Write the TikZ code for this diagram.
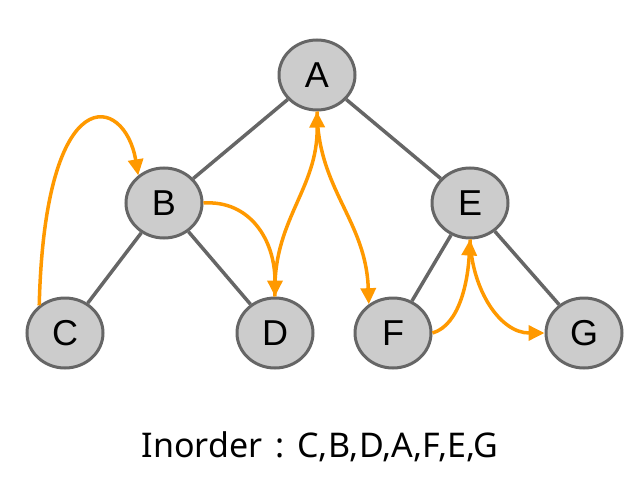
\documentclass[tikz,border=0pt]{standalone}
\usepackage{fontspec}
\setmainfont{Liberation Sans}
\newfontfamily\captionfont{Noto Sans}
\usetikzlibrary{shapes.geometric,arrows.meta}
\definecolor{nodefill}{HTML}{CCCCCC}
\definecolor{nodeline}{HTML}{666666}
\definecolor{walk}{HTML}{FF9900}
\tikzset{
  treenode/.style={ellipse, draw=nodeline, fill=nodefill, line width=3pt,
    minimum width=76pt, minimum height=70pt, inner sep=0pt,
    font=\fontsize{36}{36}\selectfont},
  treeedge/.style={draw=nodeline, line width=3.5pt},
  visit/.style={draw=walk, line width=3.5pt, -{Triangle[length=16pt,width=15pt]}}
}
\begin{document}
\begin{tikzpicture}[x=1pt,y=-1pt]
  \useasboundingbox (0,0) rectangle (642,492);
  % tree nodes
  \node[treenode] (A) at (317,75)  {A};
  \node[treenode] (B) at (164,203) {B};
  \node[treenode] (E) at (470,203) {E};
  \node[treenode] (C) at (65,333)  {C};
  \node[treenode] (D) at (275,333) {D};
  \node[treenode] (F) at (393,333) {F};
  \node[treenode] (G) at (584,333) {G};
  % tree edges
  \draw[treeedge] (A) -- (B);
  \draw[treeedge] (A) -- (E);
  \draw[treeedge] (B) -- (C);
  \draw[treeedge] (B) -- (D);
  \draw[treeedge] (E) -- (F);
  \draw[treeedge] (E) -- (G);
  % inorder walk
  \draw[visit] (C.133) .. controls (45,75) and (125,95) .. (B.133);
  \draw[visit] (B.east) .. controls (250,200) and (275,240) .. (D.north);
  \draw[visit] (D.north) .. controls (272,220) and (318,190) .. (A.south);
  \draw[visit] (A.south) .. controls (318,190) and (366,220) .. (F.130);
  \draw[visit] (F.east) .. controls (460,325) and (468,280) .. (E.south);
  \draw[visit] (E.south) .. controls (472,290) and (500,333) .. (G.west);
  % caption
  \node[font=\captionfont\fontsize{34}{34}\selectfont] (cap) at (320,447) {Inorder\hspace{13pt}:\hspace{13pt}C,B,D,A,F,E,G};
\end{tikzpicture}
\end{document}
